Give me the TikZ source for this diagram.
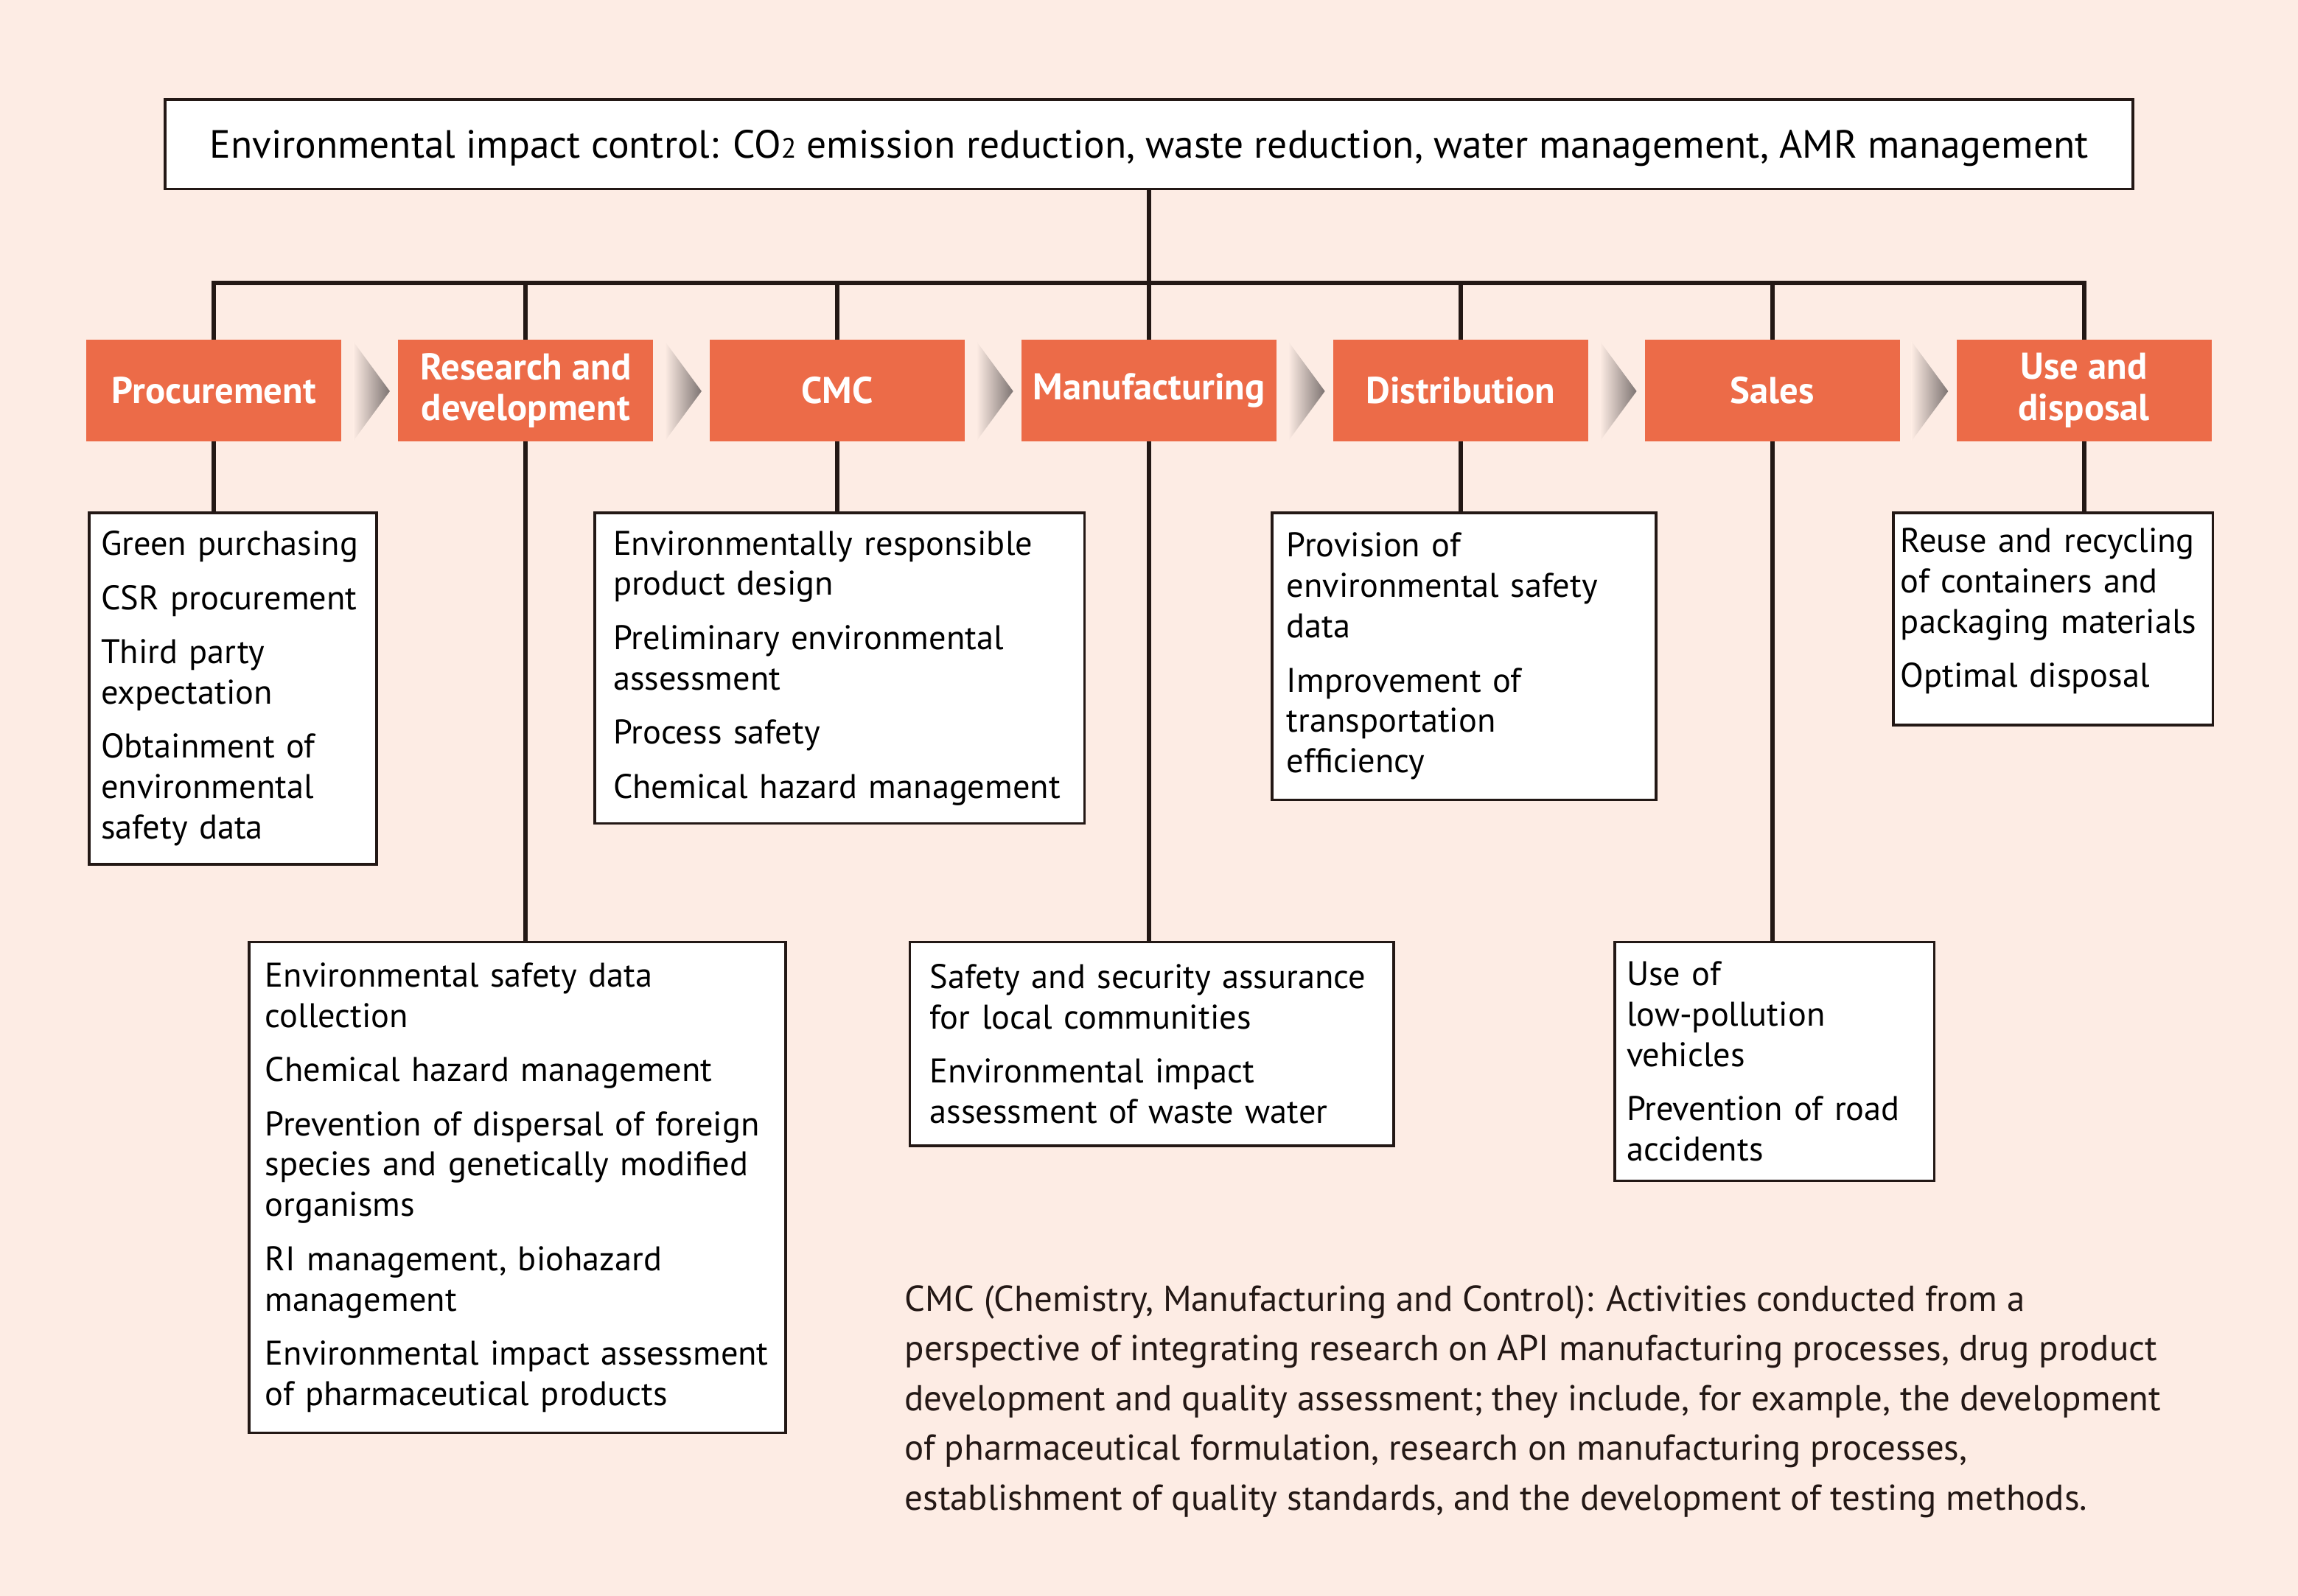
\documentclass[tikz,border=0pt]{standalone}
\usepackage{fontspec}
\setmainfont{PT Sans}
\usepackage{tikz}

\definecolor{bgpeach}{HTML}{FDECE4}
\definecolor{stageorange}{HTML}{EC6B48}
\definecolor{linebrown}{HTML}{231815}
\definecolor{chevgray}{HTML}{7D7472}

\tikzset{
    stage/.style={fill=stageorange, text=white, inner sep=0pt, align=center,
        minimum width=3.46cm, minimum height=1.372cm,
        font=\bfseries\fontsize{14.4}{15.8}\selectfont},
    itembox/.style={draw=linebrown, line width=1pt, fill=white, anchor=north west,
        align=left, inner xsep=0.2cm, inner ysep=0pt,
        font=\fontsize{13.2}{15.6}\selectfont},
    link/.style={draw=linebrown, line width=1.8pt},
}

\newcommand{\stagearrow}[1]{%
    \shade[left color=bgpeach, right color=chevgray] (#1,233) -- ++(25,34) -- ++(-25,34) -- cycle;}

\begin{document}
\begin{tikzpicture}[x=0.019885cm, y=-0.019885cm]
        \fill[bgpeach] (0,0) rectangle (1568,1089);
        \useasboundingbox (0,0) rectangle (1568,1089);

        \node[draw=linebrown, line width=1.1pt, fill=white, minimum width=26.69cm, minimum height=1.213cm,
            inner sep=0pt, text depth=0pt, font=\fontsize{15.2}{17}\selectfont] at (784,98.5) (goal)
            {Environmental impact control: CO{\fontsize{10.8}{12}\selectfont 2} emission reduction, waste reduction, water management, AMR management};
        \coordinate (bus) at (784,193);

        % stages
        \node[stage] at (146,266.5) (proc) {Procurement};
        \node[stage] at (358.7,266.5) (rd) {Research and\\development};
        \node[stage] at (571.3,266.5) (cmc) {CMC};
        \node[stage] at (784,266.5) (mfg) {Manufacturing};
        \node[stage] at (996.7,266.5) (dist) {Distribution};
        \node[stage] at (1209.3,266.5) (sales) {Sales};
        \node[stage] at (1422,266.5) (use) {Use and\\disposal};

        \stagearrow{241}
        \stagearrow{453.7}
        \stagearrow{666.3}
        \stagearrow{879}
        \stagearrow{1091.7}
        \stagearrow{1304.3}

        % activity boxes
        \node[itembox, inner xsep=0.16cm, text width=3.577cm, minimum height=4.772cm] at (60,349) (procbox)
            {Green purchasing\\[5.3pt]
             CSR procurement\\[5.3pt]
             Third party\\expectation\\[5.3pt]
             Obtainment of\\environmental\\safety data};
        \node[itembox, inner xsep=0.22cm, text width=6.838cm, minimum height=6.661cm] at (169,642) (rdbox)
            {Environmental safety data\\collection\\[5.3pt]
             Chemical hazard management\\[5.3pt]
             Prevention of dispersal of foreign\\species and genetically modified\\organisms\\[5.3pt]
             RI management, biohazard\\management\\[5.3pt]
             Environmental impact assessment\\of pharmaceutical products};
        \node[itembox, inner xsep=0.25cm, text width=6.141cm, minimum height=4.216cm] at (405,349) (cmcbox)
            {Environmentally responsible\\product design\\[5.3pt]
             Preliminary environmental\\assessment\\[5.3pt]
             Process safety\\[5.3pt]
             Chemical hazard management};
        \node[itembox, inner xsep=0.27cm, text width=6.022cm, minimum height=2.764cm] at (620,642) (mfgbox)
            {Safety and security assurance\\for local communities\\[5.3pt]
             Environmental impact\\assessment of waste water};
        \node[itembox, text width=4.810cm, minimum height=3.897cm] at (867,349) (distbox)
            {Provision of\\environmental safety\\data\\[5.3pt]
             Improvement of\\transportation\\efficiency};
        \node[itembox, inner xsep=0.16cm, text width=4.015cm, minimum height=3.241cm] at (1101,642) (salesbox)
            {Use of\\low-pollution\\vehicles\\[5.3pt]
             Prevention of road\\accidents};
        \node[itembox, inner xsep=0.1cm, text width=4.135cm, minimum height=2.883cm] at (1291,349) (usebox)
            {Reuse and recycling\\of containers and\\packaging materials\\[5.3pt]
             Optimal disposal\\[-7pt]\mbox{}};

        % connectors
        \draw[link] (goal.south) -- (bus);
        \draw[link] (proc.north) |- (bus) -| (use.north);
        \draw[link] (rd.north) -- (rd.north |- bus);
        \draw[link] (cmc.north) -- (cmc.north |- bus);
        \draw[link] (mfg.north) -- (mfg.north |- bus);
        \draw[link] (dist.north) -- (dist.north |- bus);
        \draw[link] (sales.north) -- (sales.north |- bus);
        \draw[link] (proc.south) -- (proc.south |- procbox.north);
        \draw[link] (rd.south) -- (rd.south |- rdbox.north);
        \draw[link] (cmc.south) -- (cmc.south |- cmcbox.north);
        \draw[link] (mfg.south) -- (mfg.south |- mfgbox.north);
        \draw[link] (dist.south) -- (dist.south |- distbox.north);
        \draw[link] (sales.south) -- (sales.south |- salesbox.north);
        \draw[link] (use.south) -- (use.south |- usebox.north);

        \node[anchor=north west, align=left, inner sep=0pt, text=linebrown,
            font=\fontsize{13.9}{19.2}\selectfont] at (617,877) (note)
            {CMC (Chemistry, Manufacturing and Control): Activities conducted from a\\
             perspective of integrating research on API manufacturing processes, drug product\\
             development and quality assessment; they include, for example, the development\\
             of pharmaceutical formulation, research on manufacturing processes,\\
             establishment of quality standards, and the development of testing methods.};
    \end{tikzpicture}
\end{document}
